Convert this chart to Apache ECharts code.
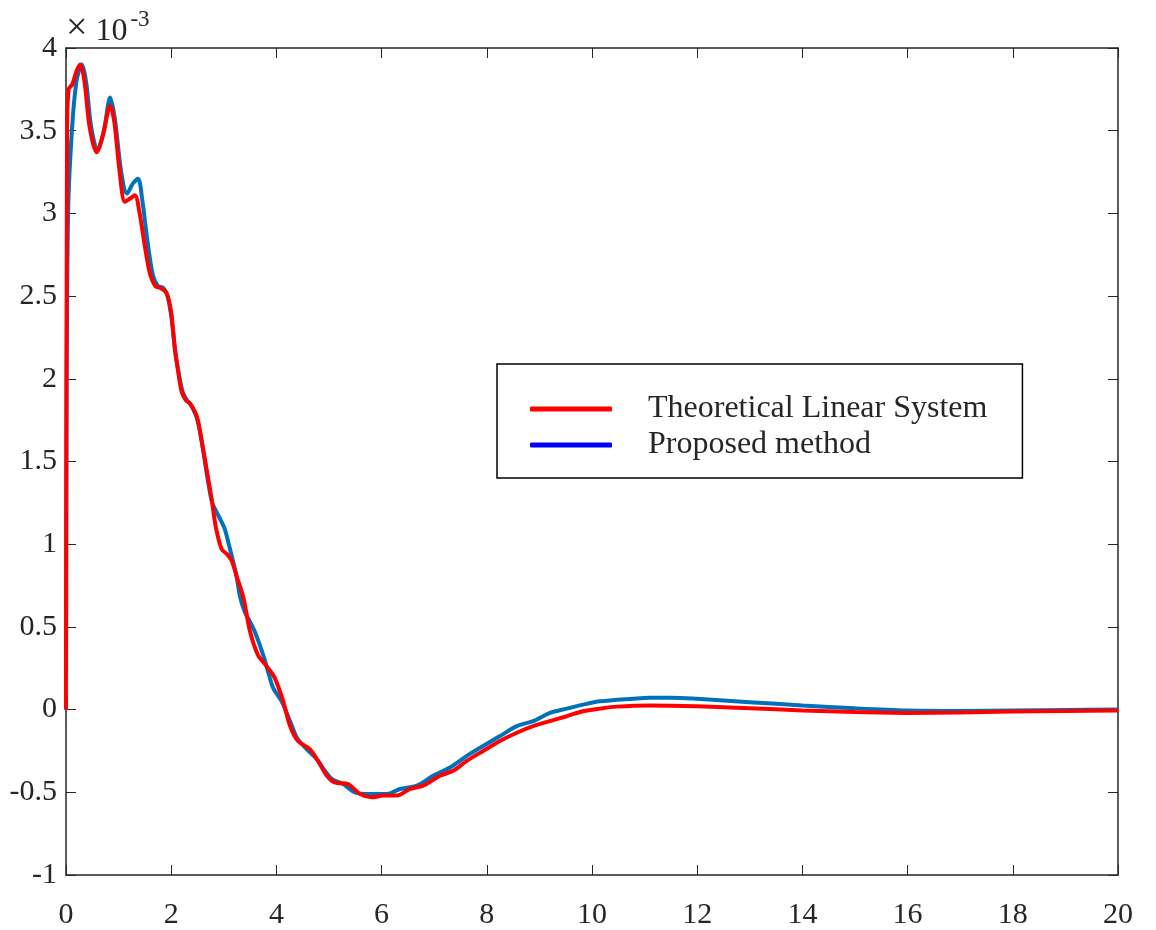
<!DOCTYPE html>
<html>
<head>
<meta charset="utf-8">
<script src="https://cdn.jsdelivr.net/npm/echarts@6/dist/echarts.min.js"></script>
<style>html,body{margin:0;padding:0;background:#fff}#c{width:1156px;height:930px}</style>
</head>
<body>
<div id="c"></div>
<script>
// values in units of 1e-3
const xTicks = [0,2,4,6,8,10,12,14,16,18,20];
const yTicks = [-1,-0.5,0,0.5,1,1.5,2,2.5,3,3.5,4];
const seriesNames = ['Theoretical Linear System','Proposed method'];
const redT = [0,0.02,0.05,0.12,0.2,0.27,0.35,0.45,0.58,0.7,0.84,0.92,1.02,1.12,1.22,1.31,1.4,1.5,1.6,1.7,1.79,1.91,2.0,2.07,2.14,2.2,2.28,2.36,2.49,2.61,2.69,2.77,2.85,2.96,3.06,3.15,3.25,3.37,3.5,3.65,3.82,3.97,4.13,4.26,4.41,4.64,4.79,4.96,5.11,5.36,5.59,5.82,6.03,6.29,6.54,6.79,7.11,7.36,7.62,7.93,8.25,8.57,8.88,9.2,9.52,9.83,10.15,10.47,11.1,12,13,14,15,16,17,18,19,20];
const redV = [0,3.5,3.75,3.78,3.86,3.90,3.80,3.52,3.37,3.47,3.65,3.55,3.25,3.07,3.09,3.11,3.00,2.80,2.63,2.56,2.55,2.52,2.40,2.18,2.03,1.92,1.87,1.85,1.77,1.57,1.42,1.27,1.10,0.97,0.94,0.90,0.80,0.68,0.47,0.33,0.26,0.19,0.05,-0.10,-0.19,-0.24,-0.31,-0.40,-0.44,-0.45,-0.51,-0.53,-0.52,-0.52,-0.48,-0.46,-0.40,-0.37,-0.31,-0.25,-0.19,-0.14,-0.10,-0.07,-0.04,-0.01,0.006,0.018,0.025,0.02,0.008,-0.005,-0.015,-0.02,-0.018,-0.012,-0.008,-0.005];
const blueT = [0,0.01,0.04,0.11,0.2,0.3,0.38,0.48,0.6,0.72,0.84,0.93,1.05,1.16,1.27,1.37,1.45,1.55,1.65,1.75,1.85,1.93,2.0,2.08,2.15,2.22,2.3,2.38,2.5,2.6,2.7,2.78,2.87,2.95,3.02,3.08,3.15,3.24,3.31,3.4,3.5,3.59,3.75,3.85,3.94,4.1,4.26,4.39,4.58,4.77,4.92,5.06,5.27,5.49,5.78,6.1,6.35,6.67,6.98,7.3,7.62,7.93,8.25,8.57,8.88,9.2,9.52,9.83,10.15,10.78,11.1,11.5,12,13,14,15,16,17,18,19,20];
const blueV = [0,1.8,3.0,3.49,3.8,3.90,3.80,3.52,3.38,3.50,3.70,3.57,3.25,3.12,3.18,3.21,3.08,2.83,2.63,2.56,2.55,2.50,2.38,2.16,2.02,1.92,1.87,1.84,1.75,1.58,1.38,1.25,1.19,1.14,1.09,1.02,0.93,0.81,0.68,0.59,0.53,0.47,0.33,0.22,0.13,0.05,-0.07,-0.17,-0.24,-0.30,-0.37,-0.42,-0.45,-0.50,-0.51,-0.51,-0.48,-0.46,-0.40,-0.35,-0.28,-0.22,-0.16,-0.10,-0.07,-0.02,0.006,0.03,0.05,0.066,0.072,0.072,0.065,0.045,0.025,0.008,-0.005,-0.008,-0.005,-0.002,0];

const FONT = 'Liberation Serif';
const chart = echarts.init(document.getElementById('c'), null, {renderer:'canvas'});
const zip = (t,v) => t.map((x,i)=>[x,v[i]]);
const axisLine = {show:true, onZero:false, lineStyle:{color:'#262626', width:1.5}};
const tick = {show:true, inside:true, length:10, lineStyle:{color:'#262626', width:1}};
chart.setOption({
  backgroundColor:'#fff',
  animation:false,
  grid:{left:66, right:38, top:48, bottom:53, containLabel:false},
  xAxis:[
    {type:'value', min:xTicks[0], max:xTicks[xTicks.length-1], interval:2, position:'bottom',
     axisLine, axisTick:tick, splitLine:{show:false},
     axisLabel:{color:'#262626', fontFamily:FONT, fontSize:30, margin:25}},
    {type:'value', min:xTicks[0], max:xTicks[xTicks.length-1], interval:2, position:'top',
     axisLine, axisTick:tick, splitLine:{show:false}, axisLabel:{show:false}}
  ],
  yAxis:[
    {type:'value', min:yTicks[0], max:yTicks[yTicks.length-1], interval:0.5, position:'left',
     axisLine, axisTick:tick, splitLine:{show:false},
     axisLabel:{color:'#262626', fontFamily:FONT, fontSize:30, margin:9, verticalAlign:'middle', lineHeight:30, padding:[10,0,0,0]}},
    {type:'value', min:yTicks[0], max:yTicks[yTicks.length-1], interval:0.5, position:'right',
     axisLine, axisTick:tick, splitLine:{show:false}, axisLabel:{show:false}}
  ],
  legend:{
    orient:'vertical', left:497, top:364,
    padding:[29,35,17,33],
    itemGap:4, itemWidth:82, itemHeight:5,
    borderColor:'#000', borderWidth:1.5, backgroundColor:'#fff',
    textStyle:{fontFamily:FONT, fontSize:32, lineHeight:32, color:'#262626', padding:[0,0,0,31]},
    data:[
      {name:seriesNames[0], icon:'roundRect', itemStyle:{color:'#ff0000'}},
      {name:seriesNames[1], icon:'roundRect', itemStyle:{color:'#0000ff'}}
    ]
  },
  graphic:[{
    type:'text', left:66, top:8,
    style:{
      text:'{x|×}{a| 10}{b|-3}',
      rich:{
        x:{fontFamily:FONT, fontSize:38, fill:'#262626', verticalAlign:'bottom', lineHeight:40},
        a:{fontFamily:FONT, fontSize:32, fill:'#262626', verticalAlign:'bottom', lineHeight:40},
        b:{fontFamily:FONT, fontSize:23, fill:'#262626', verticalAlign:'top', lineHeight:40, padding:[0,0,20,3]}
      }
    }
  }],
  series:[
    {name:seriesNames[1], type:'line', data:zip(blueT,blueV), showSymbol:false, smooth:0.3,
     lineStyle:{color:'#0072BD', width:4}, itemStyle:{color:'#0000ff'}, z:2},
    {name:seriesNames[0], type:'line', data:zip(redT,redV), showSymbol:false, smooth:0.3,
     lineStyle:{color:'#ff0000', width:4}, itemStyle:{color:'#ff0000'}, z:3}
  ]
});
</script>
</body>
</html>
